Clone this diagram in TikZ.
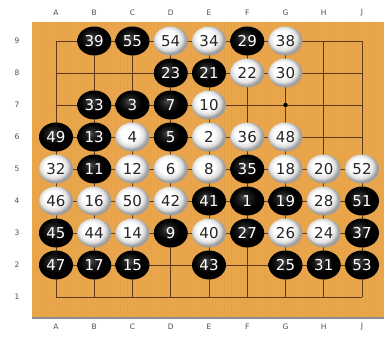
\documentclass[tikz,border=0pt]{standalone}
\usepackage{fontspec}
\setsansfont{DejaVu Sans}
\usetikzlibrary{shapes.geometric}
\definecolor{wood}{RGB}{234,166,74}
\definecolor{gridline}{RGB}{95,55,25}
\pgfdeclareradialshading{whiteball}{\pgfpoint{-6bp}{7bp}}{color(0bp)=(white); color(13bp)=(white); color(20bp)=(black!12); color(25bp)=(black!38); color(50bp)=(black!38)}
\pgfdeclareradialshading{blackball}{\pgfpoint{-6bp}{7bp}}{color(0bp)=(black!70); color(8bp)=(black!88); color(18bp)=(black); color(50bp)=(black)}
\tikzset{
  stone/.style={ellipse, inner sep=0pt, minimum width=34pt, minimum height=29pt,
    font=\sffamily\fontsize{15}{15}\selectfont},
  blackstone/.style={stone, shading=blackball, text=white},
  whitestone/.style={stone, shading=whiteball, text=black!85},
  coordlabel/.style={font=\sffamily\fontsize{7.5}{8}\selectfont, text=black!70}
}
\begin{document}
\begin{tikzpicture}[x=38.25pt, y=32pt]
		\useasboundingbox (-0.464,-0.344) rectangle (9.575,10.281);
		\fill[black!45] (0.373,0.32) rectangle (9.575,9.594);
		\fill[wood] (0.373,0.375) rectangle (9.575,9.594);
		% grain
		\foreach \g in {0.45,0.53,...,9.55}
			\draw[wood!85!brown, line width=0.4pt, opacity=0.5] (\g,0.375) -- (\g,9.594);
		% grid
		\foreach \i in {1,...,9} {
			\draw[gridline, line width=0.8pt] (\i,1) -- (\i,9);
			\draw[gridline, line width=0.8pt] (1,\i) -- (9,\i);
		}
		\foreach \p in {(3,3),(7,3),(5,5),(3,7),(7,7)}
			\fill[black] \p circle (2.2pt);
		% coordinates
		\foreach \c [count=\i] in {A,B,C,D,E,F,G,H,J} {
			\node[coordlabel] (top\c) at (\i,9.875) {\c};
			\node[coordlabel] (bot\c) at (\i,0.0625) {\c};
		}
		\foreach \r in {1,...,9}
			\node[coordlabel] (row\r) at (-0.02,\r) {\r};
		% stones: number/column/row
		\foreach \n/\c/\r in {39/2/9,55/3/9,54/4/9,34/5/9,29/6/9,38/7/9,
			23/4/8,21/5/8,22/6/8,30/7/8,
			33/2/7,3/3/7,7/4/7,10/5/7,
			49/1/6,13/2/6,4/3/6,5/4/6,2/5/6,36/6/6,48/7/6,
			32/1/5,11/2/5,12/3/5,6/4/5,8/5/5,35/6/5,18/7/5,20/8/5,52/9/5,
			46/1/4,16/2/4,50/3/4,42/4/4,41/5/4,1/6/4,19/7/4,28/8/4,51/9/4,
			45/1/3,44/2/3,14/3/3,9/4/3,40/5/3,27/6/3,26/7/3,24/8/3,37/9/3,
			47/1/2,17/2/2,15/3/2,43/5/2,25/7/2,31/8/2,53/9/2} {
			\ifodd\n
				\node[blackstone] (s\n) at (\c,\r) {\n};
			\else
				\node[whitestone] (s\n) at (\c,\r) {\n};
			\fi
		}
\end{tikzpicture}
\end{document}
